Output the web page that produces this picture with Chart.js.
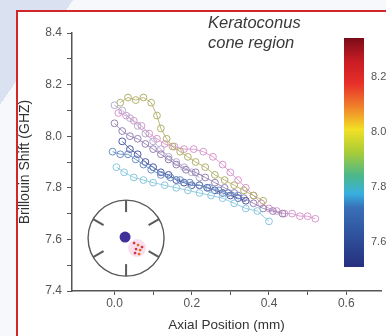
<!DOCTYPE html>
<html>
<head>
<meta charset="utf-8">
<script src="https://cdn.jsdelivr.net/npm/chart.js@4.4.1/dist/chart.umd.min.js"></script>
<style>
  html, body { margin: 0; padding: 0; }
  body {
    width: 386px; height: 336px; overflow: hidden; position: relative;
    background: linear-gradient(125deg, #dae2f2 0px, #dae2f2 60px, #f6f8fc 60px);
    font-family: "Liberation Sans", Arial, sans-serif;
  }
  #frame {
    position: absolute; left: 16px; top: 10px; right: 0; bottom: 0;
    background: #fff; border-left: 2px solid #d02828; border-top: 2px solid #d02828;
  }
  #wrap { position: absolute; left: 0; top: 0; width: 386px; height: 336px; }
  #title {
    position: absolute; left: 208px; top: 12px;
    font-style: italic; font-size: 16.5px; line-height: 20px; color: #3a3a3a;
  }
</style>
</head>
<body>
<div id="frame"></div>
<div id="wrap"><canvas id="chart" width="386" height="336"></canvas></div>
<div id="title">Keratoconus<br>cone region</div>
<script>
// axis ticks
var xTickValues = [0, 0.1, 0.2, 0.3, 0.4, 0.5, 0.6];
var xLabelValues = [0, 0.2, 0.4, 0.6];
var yTickValues = [7.4, 7.5, 7.6, 7.7, 7.8, 7.9, 8.0, 8.1, 8.2, 8.3, 8.4];
var yLabelValues = [7.4, 7.6, 7.8, 8.0, 8.2, 8.4];

// colour bar ticks and range (GHz)
var cbarTicks = [7.6, 7.8, 8.0, 8.2];
var cbarRange = [7.51, 8.34];

// the measured profiles (axial position mm, Brillouin shift GHz)
var olive_x = [0.015, 0.035, 0.055, 0.075, 0.095, 0.11, 0.12, 0.135, 0.15, 0.17, 0.19, 0.21, 0.235, 0.26, 0.285, 0.31, 0.335, 0.36, 0.385];
var olive_y = [8.13, 8.15, 8.14, 8.15, 8.13, 8.08, 8.03, 7.99, 7.96, 7.94, 7.92, 7.90, 7.88, 7.85, 7.83, 7.81, 7.79, 7.77, 7.75];

var pink_x = [0.01, 0.03, 0.05, 0.07, 0.09, 0.11, 0.13, 0.155, 0.18, 0.205, 0.23, 0.255, 0.28, 0.30, 0.32, 0.34, 0.36, 0.38, 0.40, 0.42, 0.44, 0.46, 0.48, 0.50, 0.52];
var pink_y = [8.09, 8.08, 8.06, 8.04, 8.01, 7.99, 7.97, 7.96, 7.95, 7.95, 7.94, 7.92, 7.89, 7.86, 7.83, 7.80, 7.77, 7.74, 7.72, 7.71, 7.70, 7.70, 7.69, 7.69, 7.68];

var purple_x = [0.0, 0.02, 0.04, 0.06, 0.08, 0.10, 0.12, 0.14, 0.16, 0.185, 0.21, 0.235, 0.26, 0.285, 0.31, 0.335, 0.36, 0.385, 0.41, 0.435];
var purple_y = [8.05, 8.02, 8.00, 7.99, 7.97, 7.95, 7.93, 7.91, 7.89, 7.87, 7.86, 7.84, 7.82, 7.80, 7.78, 7.76, 7.74, 7.72, 7.71, 7.70];

var lilac_x = [0.0, 0.02, 0.04, 0.06, 0.08, 0.10, 0.12, 0.14, 0.16, 0.18, 0.20, 0.22];
var lilac_y = [8.12, 8.10, 8.07, 8.04, 8.01, 7.98, 7.95, 7.92, 7.90, 7.88, 7.86, 7.84];

var navy_x = [0.02, 0.04, 0.06, 0.08, 0.10, 0.12, 0.14, 0.16, 0.18, 0.20, 0.22, 0.24, 0.26, 0.28, 0.30, 0.32, 0.34];
var navy_y = [7.98, 7.95, 7.93, 7.90, 7.88, 7.86, 7.85, 7.83, 7.82, 7.81, 7.81, 7.80, 7.79, 7.78, 7.77, 7.76, 7.75];

var blue_x = [-0.005, 0.015, 0.035, 0.055, 0.075, 0.095, 0.12, 0.145, 0.17, 0.195, 0.22, 0.245, 0.27, 0.295, 0.32];
var blue_y = [7.94, 7.93, 7.93, 7.91, 7.89, 7.87, 7.85, 7.84, 7.83, 7.82, 7.81, 7.80, 7.79, 7.78, 7.77];

var cyan_x = [0.005, 0.025, 0.05, 0.075, 0.10, 0.13, 0.16, 0.19, 0.22, 0.25, 0.28, 0.31, 0.34, 0.37, 0.40];
var cyan_y = [7.88, 7.86, 7.84, 7.83, 7.82, 7.81, 7.80, 7.79, 7.78, 7.77, 7.76, 7.74, 7.72, 7.71, 7.67];

// inset map: centre of the cornea sketch (in axis units) and the cone spot
var insetCenter = [0.03, 7.605];
var spotOffsets = [[8, 5], [12, 7], [10, 11], [14, 12], [9, 15], [13, 16], [16, 9]];

function toPoints(xs, ys) {
  var pts = [];
  for (var i = 0; i < xs.length; i++) pts.push({ x: xs[i], y: ys[i] });
  return pts;
}

function series(xs, ys, color) {
  return {
    data: toPoints(xs, ys),
    borderColor: color,
    backgroundColor: 'rgba(255,255,255,0)',
    borderWidth: 0.9,
    pointRadius: 3.4,
    pointBorderWidth: 1,
    pointBorderColor: color,
    pointBackgroundColor: 'rgba(255,255,255,0)',
    showLine: true,
    tension: 0
  };
}

// jet colour bar on the right
var colorBar = {
  id: 'colorBar',
  afterDraw: function (chart) {
    var ctx = chart.ctx;
    var left = 344, top = 38, w = 20, h = 229;
    var g = ctx.createLinearGradient(0, top, 0, top + h);
    g.addColorStop(0, '#7a0c18');
    g.addColorStop(0.1, '#c81c24');
    g.addColorStop(0.2, '#e8302a');
    g.addColorStop(0.3, '#f0802a');
    g.addColorStop(0.4, '#f2e024');
    g.addColorStop(0.5, '#a8cc38');
    g.addColorStop(0.6, '#4cb88a');
    g.addColorStop(0.68, '#38b0e0');
    g.addColorStop(0.74, '#3870b8');
    g.addColorStop(1, '#26307e');
    ctx.save();
    ctx.fillStyle = g;
    ctx.fillRect(left, top, w, h);
    ctx.fillStyle = '#555';
    ctx.font = '11px "Liberation Sans", Arial, sans-serif';
    ctx.textBaseline = 'middle';
    cbarTicks.forEach(function (v) {
      var y = top + (cbarRange[1] - v) / (cbarRange[1] - cbarRange[0]) * h;
      ctx.fillText(v.toFixed(1), left + w + 7, y);
    });
    ctx.restore();
  }
};

// small cornea sketch in the lower left
var insetMap = {
  id: 'insetMap',
  afterDatasetsDraw: function (chart) {
    var ctx = chart.ctx;
    var cx = chart.scales.x.getPixelForValue(insetCenter[0]);
    var cy = chart.scales.y.getPixelForValue(insetCenter[1]);
    var r = 38;
    ctx.save();
    ctx.strokeStyle = '#5a5a5a';
    ctx.lineWidth = 1.4;
    ctx.beginPath();
    ctx.arc(cx, cy, r, 0, Math.PI * 2);
    ctx.stroke();
    ctx.lineWidth = 2;
    for (var k = 0; k < 6; k++) {
      var a = k * Math.PI / 3;
      ctx.beginPath();
      ctx.moveTo(cx + Math.sin(a) * r, cy - Math.cos(a) * r);
      ctx.lineTo(cx + Math.sin(a) * (r - 12), cy - Math.cos(a) * (r - 12));
      ctx.stroke();
    }
    ctx.fillStyle = 'rgba(235,150,200,0.3)';
    ctx.beginPath();
    ctx.arc(cx + 11, cy + 10, 9, 0, Math.PI * 2);
    ctx.fill();
    ctx.fillStyle = '#40309a';
    ctx.beginPath();
    ctx.arc(cx - 1, cy - 1, 5.5, 0, Math.PI * 2);
    ctx.fill();
    spotOffsets.forEach(function (o, i) {
      ctx.fillStyle = i % 2 ? '#e06a20' : '#d03848';
      ctx.beginPath();
      ctx.arc(cx + o[0], cy + o[1], 1.4, 0, Math.PI * 2);
      ctx.fill();
    });
    ctx.restore();
  }
};

Chart.defaults.font.family = '"Liberation Sans", Arial, sans-serif';

new Chart(document.getElementById('chart'), {
  type: 'scatter',
  data: {
    datasets: [
      series(cyan_x, cyan_y, '#88c6dc'),
      series(blue_x, blue_y, '#6a8ec4'),
      series(navy_x, navy_y, '#4a58a2'),
      series(purple_x, purple_y, '#9682b2'),
      series(lilac_x, lilac_y, '#b6acce'),
      series(olive_x, olive_y, '#b2b06c'),
      series(pink_x, pink_y, '#d896cc')
    ]
  },
  options: {
    responsive: false,
    animation: false,
    layout: { padding: { left: 16, right: 2, top: 33, bottom: 2 } },
    plugins: { legend: { display: false }, tooltip: { enabled: false } },
    scales: {
      x: {
        type: 'linear', min: -0.11, max: 0.69,
        afterFit: function (s) { s.height = 43; },
        afterBuildTicks: function (s) { s.ticks = xTickValues.map(function (v) { return { value: v }; }); },
        ticks: {
          autoSkip: false, maxRotation: 0, padding: 1, color: '#555', font: { size: 12 },
          callback: function (v) { return xLabelValues.some(function (l) { return Math.abs(l - v) < 1e-6; }) ? v.toFixed(1) : ''; }
        },
        grid: { drawOnChartArea: false, drawTicks: true, tickLength: 4, color: '#555' },
        border: { display: true, color: '#555', width: 1.5 },
        title: { display: true, text: 'Axial Position (mm)', color: '#333', font: { size: 13.5 }, padding: { top: 0, bottom: 1 } }
      },
      y: {
        type: 'linear', min: 7.4, max: 8.4,
        afterFit: function (s) { s.width = 56; },
        afterBuildTicks: function (s) { s.ticks = yTickValues.map(function (v) { return { value: v }; }); },
        ticks: {
          autoSkip: false, padding: 5, color: '#555', font: { size: 12 },
          callback: function (v) { return yLabelValues.some(function (l) { return Math.abs(l - v) < 1e-6; }) ? v.toFixed(1) : ''; }
        },
        grid: { drawOnChartArea: false, drawTicks: true, tickLength: 5, color: '#555' },
        border: { display: true, color: '#555', width: 1.5 },
        title: { display: true, text: 'Brillouin Shift (GHZ)', color: '#333', font: { size: 14 }, padding: { top: 1, bottom: 0 } }
      }
    }
  },
  plugins: [colorBar, insetMap]
});
</script>
</body>
</html>
